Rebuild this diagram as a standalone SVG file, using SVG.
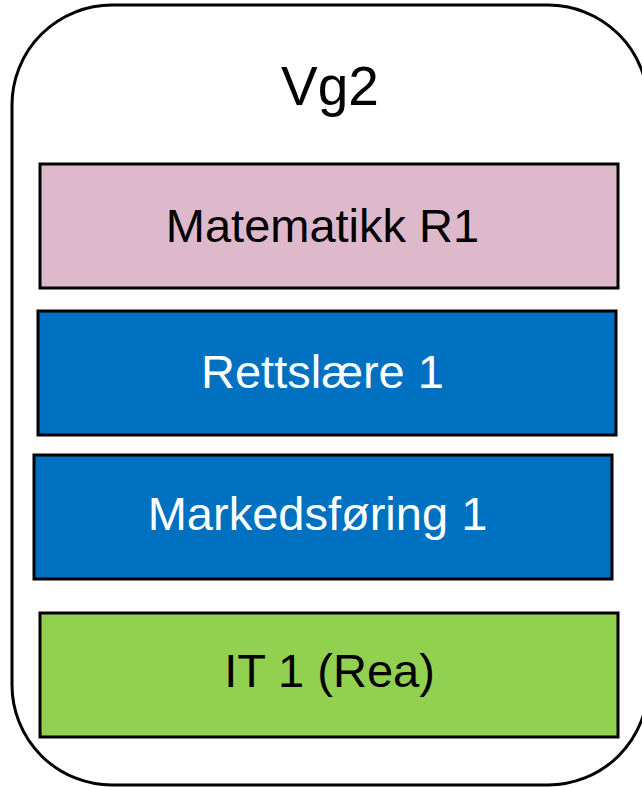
<svg xmlns="http://www.w3.org/2000/svg" width="642" height="787" viewBox="0 0 642 787">
<style>
text{font-family:"Liberation Sans",Arial,sans-serif;text-anchor:middle;}
.box{stroke:#000;stroke-width:3;}
.t{font-size:47px;}
</style>
<rect width="642" height="787" fill="#fff"/>
<g id="vg2">
<rect x="12" y="5" width="636" height="780" rx="100" ry="100" fill="#fff" stroke="#000" stroke-width="3"/>
<text x="330" y="105" font-size="55">Vg2</text>
</g>
<g id="matematikk">
<rect class="box" x="40" y="164" width="578" height="124" fill="#DEB8CB"/>
<text class="t" x="322.5" y="242" fill="#000">Matematikk R1</text>
</g>
<g id="rettslaere">
<rect class="box" x="38" y="311" width="578" height="124" fill="#0070C0"/>
<text class="t" x="322.5" y="388" fill="#fff">Rettslære 1</text>
</g>
<g id="markedsforing">
<rect class="box" x="34" y="455" width="578" height="124" fill="#0070C0"/>
<text class="t" x="317.5" y="530" fill="#fff">Markedsføring 1</text>
</g>
<g id="it1">
<rect class="box" x="40" y="613" width="578" height="124" fill="#92D050"/>
<text class="t" x="329.5" y="687" fill="#000">IT 1 (Rea)</text>
</g>
<g id="connectors"></g>
</svg>
